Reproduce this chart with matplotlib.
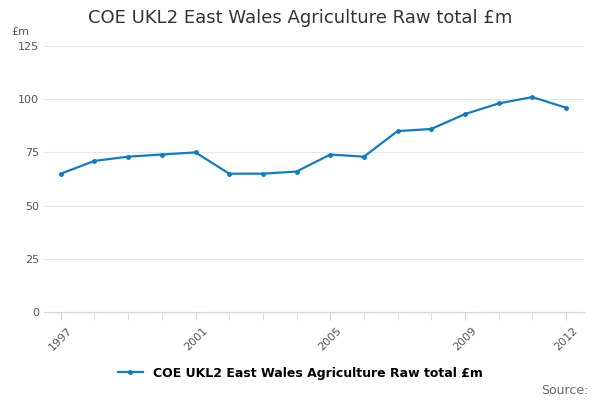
import matplotlib
matplotlib.use("Agg")
import matplotlib.pyplot as plt

years = list(range(1997, 2013))
values = [65, 71, 73, 74, 75, 65, 65, 66, 74, 73, 85, 86, 93, 98, 101, 96]
xticklabels = [1997, 2001, 2005, 2009, 2012]
yticks = [0, 25, 50, 75, 100, 125]
color = "#0f7dc2"

fig = plt.figure(figsize=(6, 4), dpi=100)
ax = fig.add_axes([0.073, 0.22, 0.9, 0.665])
ax.plot(years, values, color=color, lw=1.6, marker="o", ms=2.5, label="COE UKL2 East Wales Agriculture Raw total £m")
ax.set_xlim(1996.495, 2012.53)
ax.set_ylim(0, 125)
ax.set_yticks(yticks)
ax.set_xticks(years, minor=True)
ax.set_xticks(xticklabels)
ax.set_xticklabels([str(t) for t in xticklabels], rotation=45, fontsize=8, color="#555555")
ax.tick_params(axis="x", which="both", length=6, color="#ccd6eb")
ax.tick_params(axis="y", length=0, labelsize=8, labelcolor="#555555")
ax.grid(axis="y", color="#e6e6e6", lw=0.8)
for s in ["top", "right", "left"]:
    ax.spines[s].set_visible(False)
ax.spines["bottom"].set_color("#ccd6eb")
ax.set_axisbelow(True)
fig.text(0.5, 0.955, "COE UKL2 East Wales Agriculture Raw total £m", ha="center", va="center", fontsize=13, color="#333333")
fig.text(0.018, 0.92, "£m", fontsize=8, color="#555555", va="center")
fig.legend(loc="center", bbox_to_anchor=(0.5, 0.067), frameon=False, fontsize=9, handlelength=2,
           prop={"weight": "bold", "size": 9})
fig.text(0.98, 0.025, "Source:", ha="right", va="center", fontsize=9, color="#666666")
fig.savefig("out.png")
